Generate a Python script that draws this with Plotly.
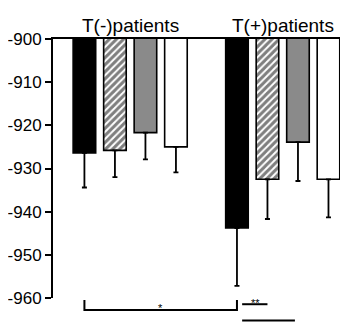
import plotly.graph_objects as go

# Data
positions_neg = [0, 1, 2, 3]
positions_pos = [5, 6, 7, 8]
series_names = ["Series 1", "Series 2", "Series 3", "Series 4"]
tneg_values = [-926.4, -925.8, -921.7, -925.0]
tneg_errors = [8.0, 6.2, 6.2, 5.9]
tpos_values = [-943.8, -932.5, -923.9, -932.5]
tpos_errors = [13.4, 9.2, 9.0, 8.8]
group_labels = ["T(-)patients", "T(+)patients"]
y_ticks = [-900, -910, -920, -930, -940, -950, -960]
y_tick_text = ["-900", "-910", "-920", "-930", "-940", "-950", "-960"]

fills = ["#000000", "#ffffff", "#8a8a8a", "#ffffff"]
patterns = ["", "/", "", ""]

fig = go.Figure()
for i in range(4):
    fig.add_trace(go.Bar(
        x=[positions_neg[i], positions_pos[i]],
        y=[tneg_values[i], tpos_values[i]],
        base=0,
        width=0.74,
        name=series_names[i],
        marker=dict(
            color=fills[i],
            line=dict(color="#000000", width=1.6),
            pattern=dict(shape=patterns[i], fgcolor="#000000", bgcolor="#ffffff",
                         size=5, solidity=0.6),
        ),
        error_y=dict(type="data", symmetric=False,
                     array=[0, 0],
                     arrayminus=[tneg_errors[i], tpos_errors[i]],
                     color="#000000", thickness=1.8, width=2.5),
        showlegend=False,
    ))

fig.update_layout(
    width=340, height=316,
    margin=dict(l=45, r=0, t=30.5, b=26),
    paper_bgcolor="white", plot_bgcolor="white",
    font=dict(family="Liberation Sans, Arial, sans-serif", color="#000000"),
    barmode="overlay",
    xaxis=dict(range=[-1.03, 8.64], side="top", showline=True, linecolor="#000000",
               linewidth=2, showticklabels=False, ticks="", showgrid=False,
               zeroline=False),
    yaxis=dict(range=[-960, -900], tickvals=y_ticks, ticktext=y_tick_text,
               ticks="outside", ticklen=6,
               tickwidth=1.8, tickcolor="#000000", showline=True, linecolor="#000000",
               linewidth=2, showgrid=False, zeroline=False,
               tickfont=dict(size=17, color="#000000")),
)

# Group labels
group_centers = [sum(positions_neg) / 4, sum(positions_pos) / 4]
for lab, cx in zip(group_labels, group_centers):
    fig.add_annotation(x=cx, y=1.0, xref="x", yref="paper", text=lab,
                       showarrow=False, yanchor="bottom", yshift=1,
                       font=dict(size=19, color="#000000"))

# Significance brackets
line = dict(color="#000000", width=2)
fig.add_shape(type="path", xref="x", yref="paper",
              path=f"M {positions_neg[0]},-0.008 L {positions_neg[0]},-0.046 "
                   f"L {positions_pos[0]},-0.046 L {positions_pos[0]},-0.008",
              line=line)
fig.add_annotation(x=(positions_neg[0] + positions_pos[0]) / 2, y=-0.069,
                   xref="x", yref="paper", text="*", showarrow=False,
                   font=dict(size=11, color="#000000"))
fig.add_shape(type="line", xref="x", yref="paper", x0=5.17, x1=6.0,
              y0=-0.024, y1=-0.024, line=line)
fig.add_annotation(x=5.6, y=-0.052, xref="x", yref="paper", text="**",
                   showarrow=False, font=dict(size=11, color="#000000"))
fig.add_shape(type="line", xref="x", yref="paper", x0=5.17, x1=6.9,
              y0=-0.087, y1=-0.087, line=line)

fig.write_html("out.html")
